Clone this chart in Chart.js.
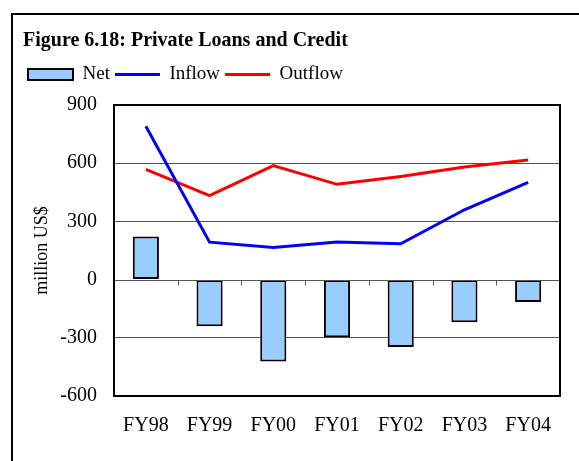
<!DOCTYPE html>
<html>
<head>
<meta charset="utf-8">
<script src="https://cdn.jsdelivr.net/npm/chart.js@4.4.0/dist/chart.umd.min.js"></script>
<style>
  html, body { margin: 0; padding: 0; background: #fff; overflow: hidden; }
  #wrap { position: relative; width: 579px; height: 461px; }
  #frame { position: absolute; left: 11px; top: 13px; width: 620px; height: 520px;
           border: 2px solid #000; box-sizing: border-box; pointer-events: none; }
  canvas { position: absolute; left: 0; top: 0; }
</style>
</head>
<body>
<div id="wrap">
  <canvas id="c" width="579" height="461"></canvas>
  <div id="frame"></div>
</div>
<script>
// Private loans and credit, million US$
const categories = ['FY98', 'FY99', 'FY00', 'FY01', 'FY02', 'FY03', 'FY04'];
const netValues = [222, -240, -422, -297, -347, -220, -116];
const inflowValues = [790, 193, 166, 194, 185, 360, 501];
const outflowValues = [568, 433, 588, 491, 532, 580, 617];
const yTicks = [-600, -300, 0, 300, 600, 900];

const SERIF = '"Liberation Serif", "Times New Roman", serif';

// Plot-area frame plus the category axis drawn along the zero line
const plotFrame = {
  id: 'plotFrame',
  afterDatasetsDraw(chart) {
    const { ctx, chartArea: a, scales: { x, y } } = chart;
    ctx.save();
    const y0 = Math.round(y.getPixelForValue(0)) + 0.5;
    ctx.strokeStyle = '#555';
    ctx.lineWidth = 1;
    ctx.beginPath();
    ctx.moveTo(a.left, y0);
    ctx.lineTo(a.right, y0);
    for (let i = 1; i < categories.length; i++) {
      const xb = Math.round((x.getPixelForValue(i - 1) + x.getPixelForValue(i)) / 2) + 0.5;
      ctx.moveTo(xb, y0);
      ctx.lineTo(xb, y0 + 5);
    }
    ctx.stroke();
    ctx.strokeStyle = '#000';
    ctx.lineWidth = 2;
    ctx.strokeRect(a.left, a.top, a.right - a.left, a.bottom - a.top);
    ctx.restore();
  }
};

new Chart(document.getElementById('c'), {
  data: {
    labels: categories,
    datasets: [
      {
        type: 'bar',
        label: 'Net',
        data: netValues,
        backgroundColor: '#99CCFF',
        borderColor: '#000',
        borderWidth: 2,
        borderSkipped: false,
        categoryPercentage: 1,
        barPercentage: 0.41,
        pointStyle: 'rect'
      },
      {
        type: 'line',
        label: 'Inflow',
        data: inflowValues,
        borderColor: '#0000FF',
        backgroundColor: '#0000FF',
        borderWidth: 3,
        pointRadius: 0,
        tension: 0,
        pointStyle: 'line'
      },
      {
        type: 'line',
        label: 'Outflow',
        data: outflowValues,
        borderColor: '#FF0000',
        backgroundColor: '#FF0000',
        borderWidth: 3,
        pointRadius: 0,
        tension: 0,
        pointStyle: 'line'
      }
    ]
  },
  options: {
    responsive: false,
    animation: false,
    devicePixelRatio: 1,
    layout: { padding: { left: 23, right: 19, top: 0, bottom: 0 } },
    plugins: {
      tooltip: { enabled: false },
      title: {
        display: true,
        text: 'Figure 6.18: Private Loans and Credit',
        align: 'start',
        color: '#000',
        font: { family: SERIF, size: 20, weight: 'bold' },
        padding: { top: 29, bottom: 7 }
      },
      legend: {
        display: true,
        position: 'top',
        align: 'start',
        labels: {
          color: '#000',
          font: { family: SERIF, size: 19 },
          usePointStyle: true,
          pointStyleWidth: 45,
          boxHeight: 11,
          padding: 5
        }
      }
    },
    scales: {
      x: {
        type: 'category',
        offset: true,
        grid: { display: false, drawTicks: false },
        border: { display: false },
        ticks: { color: '#000', font: { family: SERIF, size: 20 }, padding: 18, maxRotation: 0 },
        afterFit(s) { s.height = 65; }
      },
      // empty top axis: spacing between the legend and the plot
      xTop: {
        type: 'category',
        position: 'top',
        offset: true,
        grid: { display: false, drawTicks: false },
        border: { display: false },
        ticks: { display: false },
        afterFit(s) { s.height = 11; }
      },
      y: {
        type: 'linear',
        min: -600,
        max: 900,
        afterBuildTicks(s) { s.ticks = yTicks.map(v => ({ value: v })); },
        grid: {
          drawTicks: false,
          color: c => (c.tick.value === 0 ? 'rgba(0,0,0,0)' : '#555'),
          lineWidth: 1
        },
        border: { display: false },
        ticks: { color: '#000', font: { family: SERIF, size: 20 }, padding: 17 },
        title: {
          display: true,
          text: 'million US$',
          color: '#000',
          font: { family: SERIF, size: 18 },
          padding: { top: 8, bottom: 0 }
        },
        afterFit(s) { s.width = 91; }
      }
    }
  },
  plugins: [plotFrame]
});
</script>
</body>
</html>
